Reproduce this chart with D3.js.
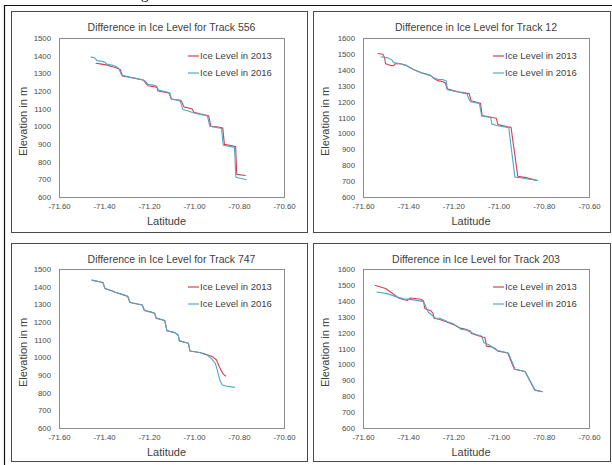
<!DOCTYPE html>
<html lang="en">
<head>
<meta charset="UTF-8">
<title>Difference in Ice Level</title>
<script src="https://cdnjs.cloudflare.com/ajax/libs/d3/7.8.5/d3.min.js"></script>
<style>
    body { margin: 0; background: #fff; }
    svg { display: block; font-family: "Liberation Sans", Arial, sans-serif; }
    .tick text { fill: #4a4a4a; font-size: 7.8px; }
    .title { fill: #404040; font-size: 10.5px; }
    .axis-title { fill: #404040; font-size: 11px; }
    .legend text { fill: #404040; font-size: 9.5px; }
</style>
</head>
<body>
<div id="chart"></div>
<script>
// ---- data: [latitude, elevation in m] ----
const track556_2013 = [[-71.437,1357],[-71.41,1352],[-71.38,1345],[-71.373,1340],[-71.35,1333],[-71.328,1322],[-71.318,1285],[-71.29,1278],[-71.255,1270],[-71.225,1262],[-71.205,1230],[-71.18,1225],[-71.165,1220],[-71.16,1200],[-71.125,1192],[-71.11,1188],[-71.102,1155],[-71.06,1148],[-71.055,1140],[-71.045,1110],[-71.01,1100],[-71.0,1080],[-70.97,1070],[-70.935,1060],[-70.925,1000],[-70.89,996],[-70.872,990],[-70.865,898],[-70.83,890],[-70.815,885],[-70.81,728],[-70.77,722]];
const track556_2016 = [[-71.459,1393],[-71.44,1387],[-71.432,1372],[-71.41,1368],[-71.395,1362],[-71.388,1352],[-71.36,1345],[-71.345,1337],[-71.335,1328],[-71.322,1290],[-71.29,1280],[-71.26,1272],[-71.235,1265],[-71.215,1255],[-71.205,1238],[-71.175,1232],[-71.165,1225],[-71.158,1205],[-71.125,1196],[-71.108,1190],[-71.1,1155],[-71.07,1147],[-71.06,1140],[-71.05,1095],[-71.03,1088],[-71.0,1075],[-70.975,1068],[-70.94,1058],[-70.93,1000],[-70.895,992],[-70.878,988],[-70.87,893],[-70.835,885],[-70.82,880],[-70.814,712],[-70.766,698]];

const track12_2013 = [[-71.535,1503],[-71.512,1498],[-71.505,1478],[-71.5,1438],[-71.48,1428],[-71.465,1425],[-71.455,1440],[-71.43,1436],[-71.41,1428],[-71.375,1400],[-71.34,1380],[-71.3,1362],[-71.285,1345],[-71.27,1332],[-71.245,1325],[-71.235,1315],[-71.228,1280],[-71.18,1262],[-71.13,1250],[-71.122,1205],[-71.08,1190],[-71.073,1112],[-71.04,1103],[-71.01,1095],[-71.003,1055],[-70.96,1042],[-70.945,1038],[-70.915,730],[-70.88,722],[-70.827,704]];
const track12_2016 = [[-71.522,1482],[-71.49,1475],[-71.472,1462],[-71.465,1445],[-71.43,1436],[-71.41,1428],[-71.375,1400],[-71.34,1382],[-71.305,1368],[-71.29,1352],[-71.27,1340],[-71.245,1338],[-71.232,1330],[-71.226,1275],[-71.18,1260],[-71.14,1248],[-71.132,1220],[-71.125,1200],[-71.085,1188],[-71.08,1150],[-71.075,1110],[-71.035,1100],[-71.03,1060],[-71.01,1050],[-70.96,1038],[-70.955,1035],[-70.928,725],[-70.9,720],[-70.827,704]];

const track747_2013 = [[-71.455,1437],[-71.42,1428],[-71.405,1424],[-71.396,1390],[-71.36,1374],[-71.35,1368],[-71.31,1352],[-71.295,1346],[-71.284,1310],[-71.23,1296],[-71.22,1265],[-71.19,1256],[-71.175,1250],[-71.168,1222],[-71.13,1208],[-71.12,1150],[-71.085,1140],[-71.07,1125],[-71.065,1093],[-71.025,1080],[-71.018,1036],[-70.975,1027],[-70.95,1018],[-70.925,1008],[-70.914,1000],[-70.9,985],[-70.885,940],[-70.87,905],[-70.858,893]];
const track747_2016 = [[-71.455,1437],[-71.42,1428],[-71.405,1424],[-71.396,1390],[-71.36,1374],[-71.35,1368],[-71.31,1352],[-71.295,1346],[-71.284,1310],[-71.23,1296],[-71.22,1265],[-71.19,1256],[-71.175,1250],[-71.168,1222],[-71.13,1208],[-71.12,1150],[-71.085,1140],[-71.07,1125],[-71.065,1093],[-71.025,1080],[-71.018,1036],[-70.975,1027],[-70.94,1012],[-70.92,990],[-70.905,965],[-70.895,920],[-70.885,870],[-70.875,845],[-70.86,838],[-70.818,830]];

const track203_2013 = [[-71.548,1498],[-71.5,1477],[-71.478,1455],[-71.441,1417],[-71.404,1402],[-71.39,1418],[-71.345,1410],[-71.333,1400],[-71.326,1350],[-71.3,1338],[-71.29,1320],[-71.285,1290],[-71.26,1282],[-71.235,1270],[-71.21,1255],[-71.19,1245],[-71.17,1228],[-71.15,1222],[-71.125,1210],[-71.12,1195],[-71.09,1180],[-71.06,1168],[-71.054,1115],[-71.03,1110],[-71.015,1100],[-71.005,1085],[-70.96,1072],[-70.93,970],[-70.883,955],[-70.84,838],[-70.805,828]];
const track203_2016 = [[-71.54,1455],[-71.493,1445],[-71.448,1423],[-71.42,1412],[-71.374,1406],[-71.332,1395],[-71.311,1328],[-71.292,1306],[-71.28,1292],[-71.26,1290],[-71.24,1278],[-71.225,1268],[-71.2,1255],[-71.185,1240],[-71.166,1221],[-71.14,1215],[-71.121,1200],[-71.1,1188],[-71.076,1179],[-71.064,1136],[-71.045,1125],[-71.031,1111],[-71.02,1100],[-71.009,1089],[-70.957,1072],[-70.927,970],[-70.883,955],[-70.838,838],[-70.805,828]];

const seriesNames = ["Ice Level in 2013", "Ice Level in 2016"];
const xTicks = [-71.6, -71.4, -71.2, -71.0, -70.8, -70.6];
const yTicks1500 = [600, 700, 800, 900, 1000, 1100, 1200, 1300, 1400, 1500];
const yTicks1600 = [600, 700, 800, 900, 1000, 1100, 1200, 1300, 1400, 1500, 1600];

const colors = ["#d6404e", "#4da9cb"];

// panel boxes + plot areas (px)
const panels = [
    {title: "Difference in Ice Level for Track 556", box: [11, 11, 307, 232], plot: [59, 38, 284, 197], yTicks: yTicks1500, series: [track556_2013, track556_2016]},
    {title: "Difference in Ice Level for Track 12",  box: [313, 11, 610, 232], plot: [363, 38, 589, 197], yTicks: yTicks1600, series: [track12_2013, track12_2016]},
    {title: "Difference in Ice Level for Track 747", box: [11, 243, 307, 461], plot: [59, 269, 284, 428], yTicks: yTicks1500, series: [track747_2013, track747_2016]},
    {title: "Difference in Ice Level for Track 203", box: [313, 243, 610, 461], plot: [363, 269, 589, 428], yTicks: yTicks1600, series: [track203_2013, track203_2016]}
];

const W = 612, H = 465;
const svg = d3.select("#chart").append("svg")
    .attr("width", W).attr("height", H);

svg.append("rect").attr("width", W).attr("height", H).attr("fill", "#fff");

// scrap of the document text above the figure
svg.append("text").attr("x", 141).attr("y", -1)
    .attr("font-family", "Liberation Serif, serif").attr("font-size", 15)
    .text("g");

// outer frame
svg.append("path")
    .attr("d", `M4.5,${H} V5.5 H${W}`)
    .attr("fill", "none").attr("stroke", "#111").attr("stroke-width", 1.2);

panels.forEach(p => {
    const [bx0, by0, bx1, by1] = p.box;
    const [px0, py0, px1, py1] = p.plot;
    const g = svg.append("g");

    g.append("rect")
        .attr("x", bx0 + 0.5).attr("y", by0 + 0.5)
        .attr("width", bx1 - bx0).attr("height", by1 - by0)
        .attr("fill", "#fff").attr("stroke", "#4a4a4a").attr("stroke-width", 1);

    const x = d3.scaleLinear().domain([-71.6, -70.6]).range([px0, px1]);
    const y = d3.scaleLinear().domain(d3.extent(p.yTicks)).range([py1, py0]);

    // plot area border
    g.append("rect")
        .attr("x", px0 + 0.5).attr("y", py0 + 0.5)
        .attr("width", px1 - px0).attr("height", py1 - py0)
        .attr("fill", "none").attr("stroke", "#8c8c8c").attr("stroke-width", 1);

    g.append("g")
        .attr("transform", `translate(${px0 - 4},0)`)
        .call(d3.axisLeft(y).tickValues(p.yTicks).tickSize(0).tickPadding(4).tickFormat(d3.format("d")))
        .call(a => a.select(".domain").remove());

    g.append("g")
        .attr("transform", `translate(0,${py1 + 4})`)
        .call(d3.axisBottom(x).tickValues(xTicks).tickSize(0).tickPadding(2).tickFormat(d3.format(".2f")))
        .call(a => a.select(".domain").remove())
        .call(a => a.selectAll("text").text(d => d3.format(".2f")(d).replace("−", "-")));

    g.append("text").attr("class", "title")
        .attr("x", (px0 + px1) / 2).attr("y", by0 + 20)
        .attr("text-anchor", "middle").text(p.title);

    g.append("text").attr("class", "axis-title")
        .attr("x", (px0 + px1) / 2 - 5).attr("y", py1 + 28)
        .attr("text-anchor", "middle").text("Latitude");

    g.append("text").attr("class", "axis-title")
        .attr("transform", `translate(${bx0 + 16},${(py0 + py1) / 2 + 4}) rotate(-90)`)
        .attr("text-anchor", "middle").text("Elevation in m");

    const line = d3.line().x(d => x(d[0])).y(d => y(d[1]));
    p.series.forEach((s, i) => {
        g.append("path").datum(s)
            .attr("d", line)
            .attr("fill", "none")
            .attr("stroke", colors[i])
            .attr("stroke-width", 1.1)
            .attr("stroke-linejoin", "round");
    });

    const leg = g.append("g").attr("class", "legend")
        .attr("transform", `translate(${px1 - 96},${py0 + 18})`);
    seriesNames.forEach((name, i) => {
        leg.append("line")
            .attr("x1", 0).attr("x2", 11)
            .attr("y1", i * 17).attr("y2", i * 17)
            .attr("stroke", colors[i]).attr("stroke-width", 1.2);
        leg.append("text")
            .attr("x", 12).attr("y", i * 17).attr("dy", "0.35em")
            .text(name);
    });
});
</script>
</body>
</html>
